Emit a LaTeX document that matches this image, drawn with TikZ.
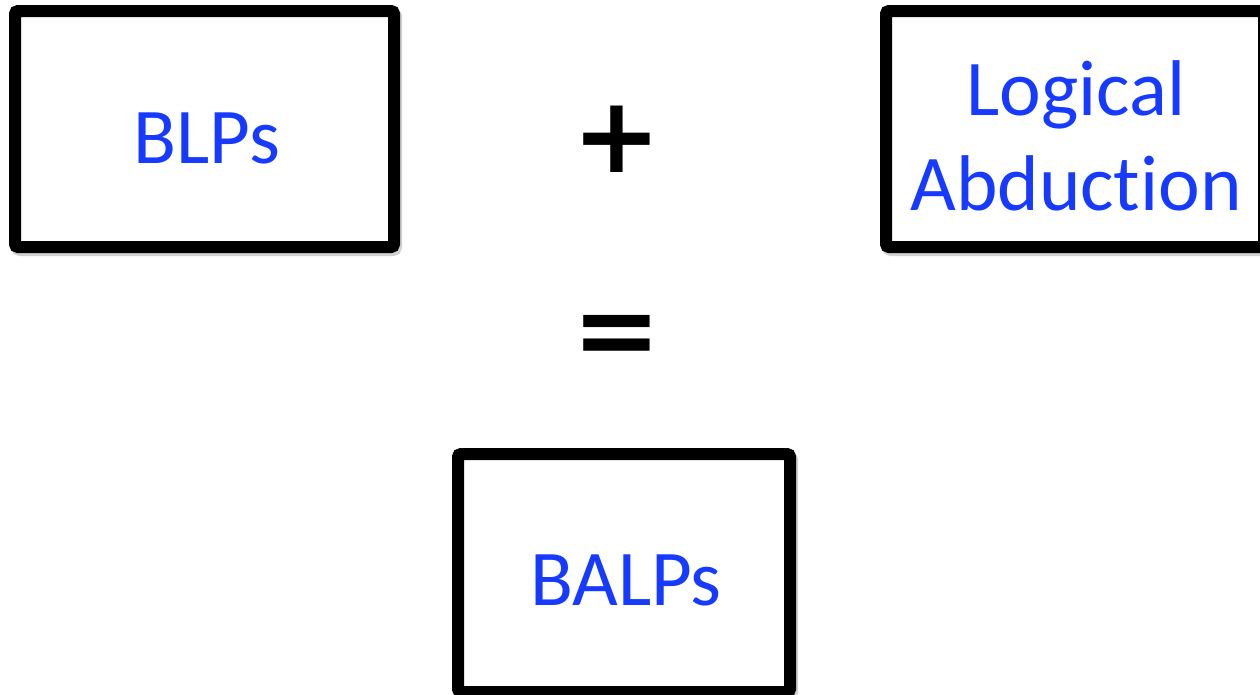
\documentclass[tikz,border=0pt]{standalone}
\usepackage{fontspec}
\setmainfont[Ligatures=NoCommon]{Carlito}
\newfontfamily\symfont{DejaVu Sans}
\definecolor{labelblue}{RGB}{22,58,255}
\begin{document}
\begin{tikzpicture}[x=1pt,y=-1pt,
  frame/.style={draw=black, line width=12pt, rounded corners=3pt, fill=white,
    inner sep=0pt, outer sep=0pt,
    preaction={draw=black!18, line width=12pt, rounded corners=3pt,
      transform canvas={shift={(2pt,-3pt)}}}},
  lbl/.style={text=labelblue, font=\fontsize{79}{95}\selectfont, inner sep=0pt, anchor=base},
  op/.style={font=\symfont\bfseries\fontsize{106}{106}\selectfont, inner sep=0pt}]
  \useasboundingbox (0,0) rectangle (1260,694);
  % three framed boxes
  \node[frame, minimum width=379pt, minimum height=236pt] (blp) at (204.5,129) {};
  \node[frame, minimum width=378pt, minimum height=236pt] (abd) at (1075,129) {};
  \node[frame, minimum width=332pt, minimum height=238pt] (balp) at (624,573) {};
  % their labels (a two-line node sits on its last baseline)
  \node[lbl] (blpt) at (207,163) {BLPs};
  \node[lbl, align=center] (abdt) at (1076,210) {Logical\\Abduction};
  \node[lbl] (balpt) at (626,605) {BALPs};
  % the operators between them
  \node[op] (plus) at (617,139) {+};
  \node[op] (eq) at (617,341) {=};
\end{tikzpicture}
\end{document}
